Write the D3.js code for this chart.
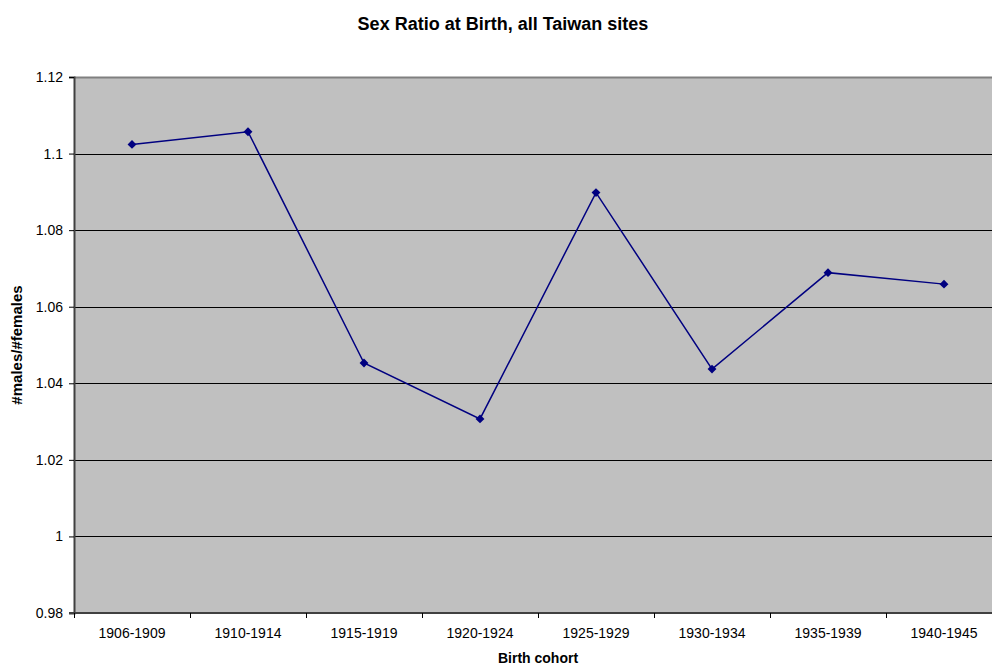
<!DOCTYPE html>
<html><head><meta charset="utf-8">
<script src="https://cdn.jsdelivr.net/npm/d3@7"></script>
<style>body{margin:0;background:#fff}svg{display:block;font-family:"Liberation Sans",Arial,sans-serif}</style>
</head><body><svg id="c" width="992" height="666"></svg>
<script>
const categories = ["1906-1909","1910-1914","1915-1919","1920-1924","1925-1929","1930-1934","1935-1939","1940-1945"];
const values = [1.1024,1.1057,1.0453,1.0307,1.0898,1.0437,1.0689,1.0659];
const yTicks = [0.98,1.0,1.02,1.04,1.06,1.08,1.1,1.12];
const yTickLabels = ["0.98","1","1.02","1.04","1.06","1.08","1.1","1.12"];

const svg = d3.select("#c");
const L=74, R=1002, T=77, B=613;
const x = d3.scaleBand().domain(categories).range([L,R]);
const y = d3.scaleLinear().domain([0.98,1.12]).range([B,T]);

svg.append("rect").attr("x",L).attr("y",T).attr("width",R-L).attr("height",B-T).attr("fill","#c0c0c0");
svg.append("g").selectAll("line").data(yTicks.slice(1)).join("line")
  .attr("x1",L).attr("x2",R).attr("y1",d=>Math.round(y(d))+0.5).attr("y2",d=>Math.round(y(d))+0.5)
  .attr("stroke","#000").attr("stroke-width",1);
svg.append("line").attr("x1",L).attr("x2",R).attr("y1",T+0.5).attr("y2",T+0.5).attr("stroke","#808080").attr("stroke-width",2);

const ya = d3.axisLeft(y).tickValues(yTicks).tickFormat((d,i)=>yTickLabels[i]).tickSize(5).tickPadding(6);
const gy = svg.append("g").attr("transform",`translate(${L},0)`).call(ya);
gy.select(".domain").attr("stroke","#404040").attr("stroke-width",2);
gy.selectAll(".tick line").attr("stroke","#000");
gy.selectAll("text").attr("font-size",14).attr("fill","#000").attr("font-family","Liberation Sans, Arial, sans-serif");

const xa = d3.axisBottom(x).tickSize(0).tickPadding(15);
const gx = svg.append("g").attr("transform",`translate(0,${B})`).call(xa);
gx.select(".domain").remove();
gx.selectAll("text").attr("font-size",14).attr("fill","#000").attr("font-family","Liberation Sans, Arial, sans-serif");
svg.append("line").attr("x1",L-5).attr("x2",R).attr("y1",B).attr("y2",B).attr("stroke","#404040").attr("stroke-width",2);
svg.append("g").selectAll("line").data(categories.map(c=>x(c))).join("line")
  .attr("x1",d=>Math.round(d)+0.5).attr("x2",d=>Math.round(d)+0.5).attr("y1",B).attr("y2",B+5).attr("stroke","#000");

const cx = d=>x(d)+x.bandwidth()/2;
const line = d3.line().x((d,i)=>cx(categories[i])).y(d=>y(d));
svg.append("path").datum(values).attr("d",line).attr("fill","none").attr("stroke","#000080").attr("stroke-width",1.5);
svg.append("g").selectAll("path").data(values).join("path")
  .attr("d",d3.symbol().type(d3.symbolDiamond2).size(50))
  .attr("transform",(d,i)=>`translate(${cx(categories[i])},${y(d)})`)
  .attr("fill","#000080");

svg.append("text").attr("x",503).attr("y",30).attr("text-anchor","middle").attr("font-size",18).attr("font-weight","bold").text("Sex Ratio at Birth, all Taiwan sites");
svg.append("text").attr("x",538).attr("y",663).attr("text-anchor","middle").attr("font-size",14).attr("font-weight","bold").text("Birth cohort");
svg.append("text").attr("transform",`translate(22,${(T+B)/2}) rotate(-90)`).attr("text-anchor","middle").attr("font-size",15).attr("font-weight","bold").text("#males/#females");
</script></body></html>
